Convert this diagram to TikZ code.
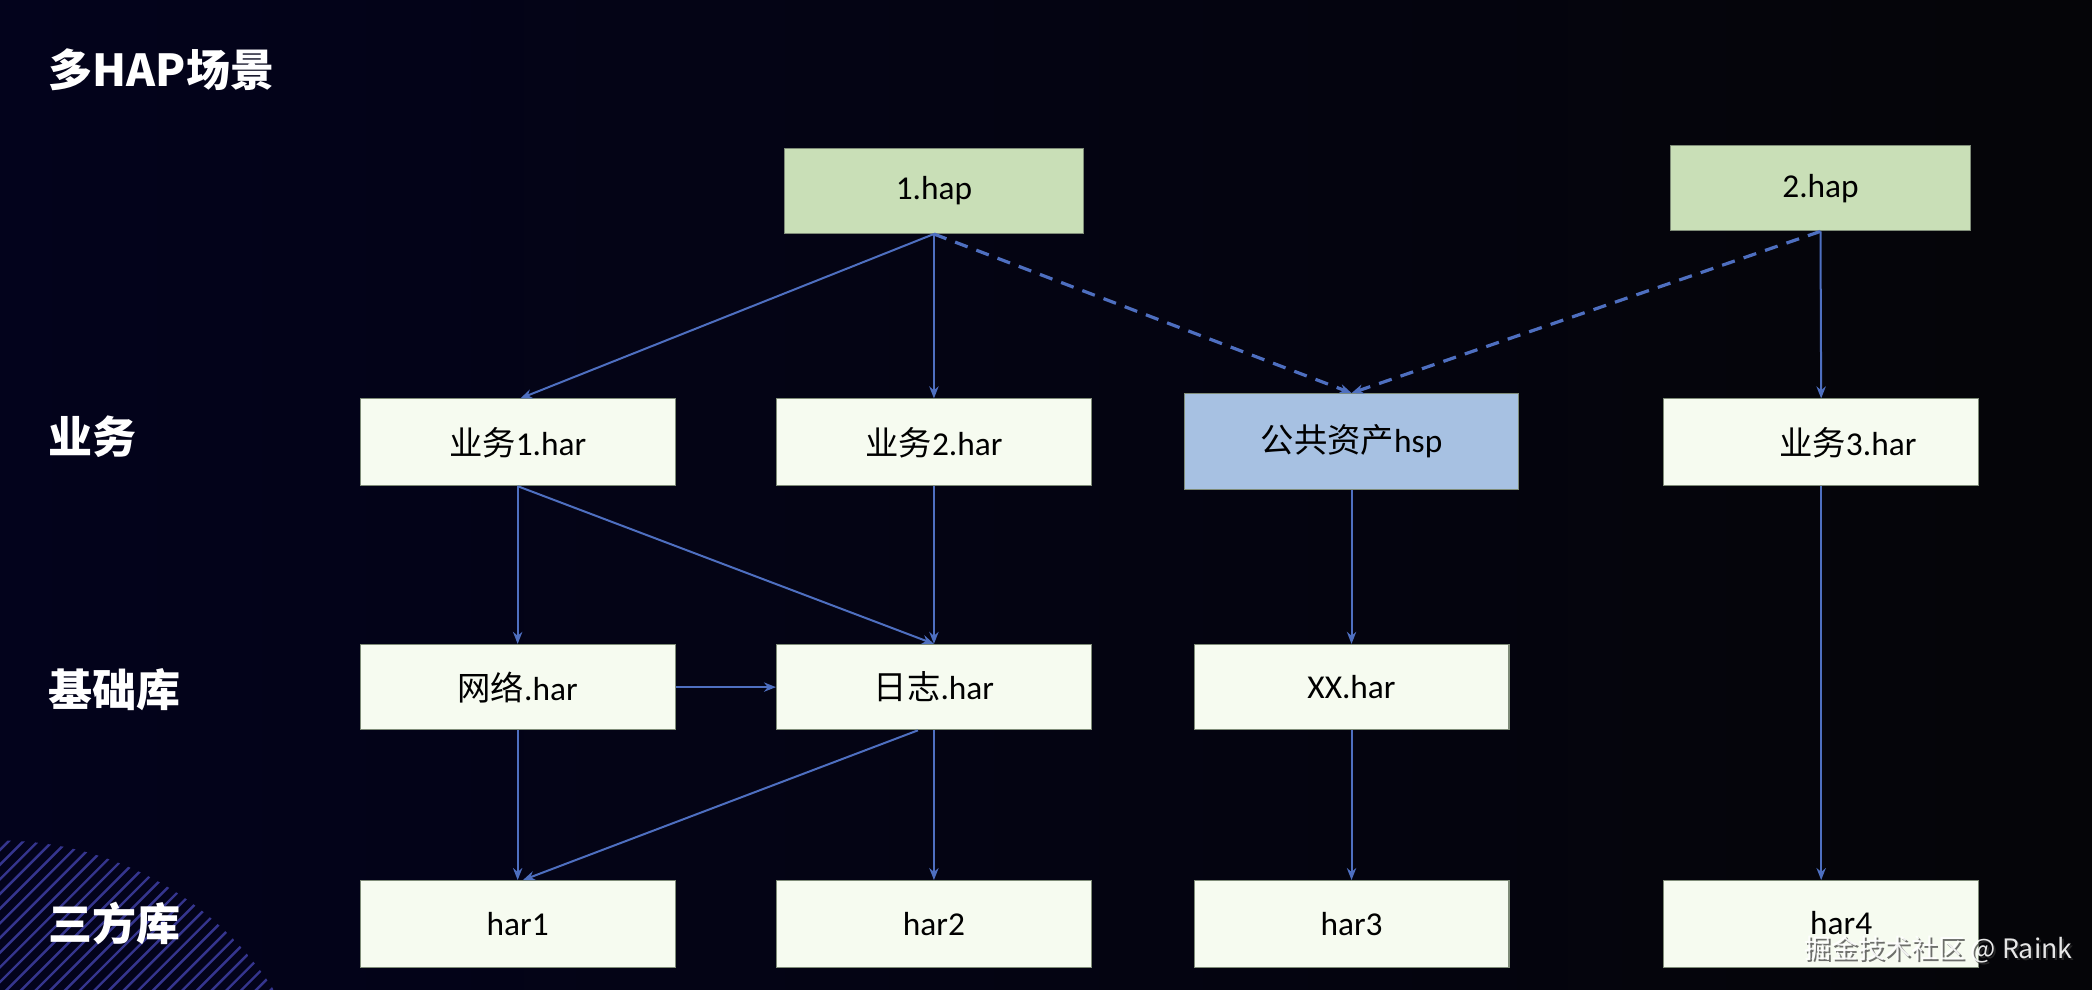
\documentclass[tikz,border=0pt]{standalone}
\usepackage{fontspec}
\setmainfont{Carlito}
\newfontfamily\cjk{Noto Sans CJK SC}
\usetikzlibrary{arrows.meta}
\definecolor{bgl}{HTML}{03031C}
\definecolor{bgr}{HTML}{050508}
\definecolor{hapfill}{HTML}{C9DFB7}
\definecolor{harfill}{HTML}{F6FBF0}
\definecolor{hspfill}{HTML}{A7C1E2}
\definecolor{boxline}{HTML}{7F8C78}
\definecolor{edgec}{HTML}{4E6FC0}
\definecolor{hatchc}{HTML}{35358E}
\begin{document}
\begin{tikzpicture}[x=1pt,y=-1pt,
  box/.style={draw=boxline, line width=0.8pt, fill=harfill, inner sep=0pt,
    minimum width=236pt, minimum height=65pt, text=black,
    font=\fontsize{25}{30}\selectfont},
  hapbox/.style={box, fill=hapfill, minimum width=224pt, minimum height=64pt},
  hspbox/.style={box, fill=hspfill, minimum width=250pt, minimum height=72pt},
  arr/.style={draw=edgec, line width=1.5pt, -{Stealth[length=9pt,width=7pt]}},
  darr/.style={arr, line width=2.4pt, dash pattern=on 10pt off 7pt},
  rowlabel/.style={anchor=west, text=white, font=\cjk\bfseries\fontsize{33}{40}\selectfont},
  wmark/.style={font=\cjk\fontsize{20}{24}\selectfont}]
\useasboundingbox (0,0) rectangle (1568,742);
\shade[left color=bgl, right color=bgr] (0,0) rectangle (1568,742);
% hatched quarter disc
\begin{scope}
  \clip (0,0) rectangle (1568,742);
  \clip (0,874) circle (244);
  \foreach \c in {560,571,...,1000}
    \draw[hatchc, line width=1.8pt] (\c-800,800) -- (\c-560,560);
\end{scope}
% title and row labels
\node[rowlabel] (title) at (33,52) {多HAP场景};
\node[rowlabel] (lb1) at (33,327) {业务};
\node[rowlabel] (lb2) at (33,517) {基础库};
\node[rowlabel] (lb3) at (33,692) {三方库};
% boxes
\node[hapbox] (hap1) at (700,143) {1.hap};
\node[hapbox, minimum width=225pt] (hap2) at (1364.5,141) {2.hap};
\node[box] (b1) at (388,331.5) {{\cjk 业务}1.har};
\node[box] (b2) at (700,331.5) {{\cjk 业务}2.har};
\node[hspbox] (hsp) at (1013,331) {{\cjk 公共资产}hsp};
\node[box] (b3) at (1365,331.5) {\hspace*{40pt}{\cjk 业务}3.har};
\node[box, minimum height=64pt] (net) at (388,515) {{\cjk 网络}.har};
\node[box, minimum height=64pt] (log) at (700,515) {{\cjk 日志}.har};
\node[box, minimum height=64pt] (xx) at (1013,515) {XX.har};
\node[box] (h1) at (388,692.5) {har1};
\node[box] (h2) at (700,692.5) {har2};
\node[box] (h3) at (1013,692.5) {har3};
\node[box] (h4) at (1365,692.5) {\hspace*{30pt}\raisebox{2pt}{har4}};
% connectors
\draw[arr] (hap1.south) -- ([xshift=2pt]b1.north);
\draw[arr] (hap1.south) -- (b2.north);
\draw[darr] (hap1.south) -- (hsp.north);
\draw[darr] (hap2.south) -- (hsp.north);
\draw[arr] (hap2.south) -- (b3.north);
\draw[arr] (b1.south) -- (net.north);
\draw[arr] (b1.south) -- (log.north);
\draw[arr] (b2.south) -- (log.north);
\draw[arr] (net.east) -- (log.west);
\draw[arr] (net.south) -- (h1.north);
\draw[arr] ([xshift=-12pt]log.south) -- ([xshift=4pt]h1.north);
\draw[arr] (log.south) -- (h2.north);
\draw[arr] (hsp.south) -- (xx.north);
\draw[arr] (xx.south) -- (h3.north);
\draw[arr] (b3.south) -- (h4.north);
% watermark (dark shadow under light text)
\node[wmark, text=black!80, opacity=0.7] (wmshadow) at (1454.5,713.5) {掘金技术社区 @ Raink};
\node[wmark, text=white, opacity=0.9] (wm) at (1453,712) {掘金技术社区 @ Raink};
\end{tikzpicture}
\end{document}
